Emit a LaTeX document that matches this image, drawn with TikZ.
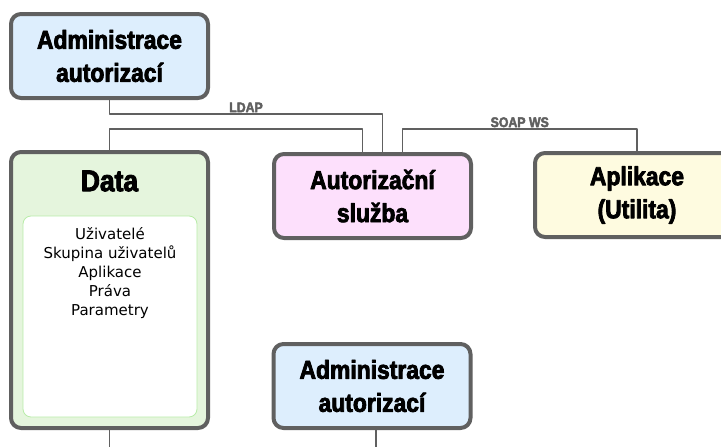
\documentclass[tikz,border=0pt]{standalone}
\usepackage{fontspec}
\setmainfont{DejaVu Sans}
\newfontfamily\headfont[FakeStretch=0.88,FakeBold=3]{Liberation Sans Bold}
\definecolor{edge}{HTML}{606060}
\definecolor{blue}{HTML}{DDEEFD}
\definecolor{green}{HTML}{E5F5DD}
\definecolor{pink}{HTML}{FDE0FC}
\definecolor{yellow}{HTML}{FEFBE0}
\definecolor{leaf}{HTML}{B8ECA8}
\tikzset{
	box/.style={draw=edge, line width=4pt, rounded corners=10pt, minimum width=197pt, minimum height=84pt, inner sep=0pt, align=center, font=\headfont\fontsize{26}{33}\selectfont},
	wire/.style={draw=edge, line width=1.6pt},
	tag/.style={text=edge, inner sep=1pt, font=\headfont\fontsize{14}{14}\selectfont}
}
\begin{document}
\begin{tikzpicture}[x=1pt, y=-1pt, line join=round, line cap=round]
			\useasboundingbox (0,0) rectangle (721,447);
			\clip (0,0) rectangle (721,447);
			\def\top{129} \def\low{114} % výšky vodorovných spojů
			% bloky
			\node[box, fill=blue] (admin) at (109.5,56) {Administrace\\autorizací};
			\node[box, fill=green, minimum height=276pt] (data) at (109.5,290) {};
			\node[box, fill=pink] (auth) at (372.5,196) {Autorizační\\služba};
			\node[box, fill=yellow, minimum width=204pt] (app) at (637,195) {Aplikace\\(Utilita)};
			\node[box, fill=blue] (admin2) at (372,386) {Administrace\\autorizací};
			\node[font=\headfont\fontsize{30}{30}\selectfont, inner sep=0pt] (datahead) at (109.5,181) {Data};
			\node[draw=leaf, fill=white, line width=0.8pt, rounded corners=8pt, minimum width=174pt, minimum height=201pt] (datain) at (110,316.5) {};
			\node[anchor=north, align=center, inner sep=0pt, font=\fontsize{15}{19}\selectfont] (items) at (110,227) {Uživatelé\\Skupina uživatelů\\Aplikace\\Práva\\Parametry};
			% spoje
			\draw[wire] (admin.south) -- ++(0,\low-100) -| node[tag, pos=0.25, above]{LDAP} ([xshift=10pt]auth.north);
			\draw[wire] (data.north) -- ++(0,\top-150) -| ([xshift=-10pt]auth.north);
			\draw[wire] ([xshift=30pt]auth.north) -- ++(0,\top-152) -| node[tag, pos=0.25, above]{SOAP WS} (app.north);
			\coordinate (dataend) at (109.5,460);
			\coordinate (adminend) at (376,460);
			\draw[wire] (data.south) -- (dataend);
			\draw[wire] ([xshift=4pt]admin2.south) -- (adminend);
		\end{tikzpicture}
\end{document}
